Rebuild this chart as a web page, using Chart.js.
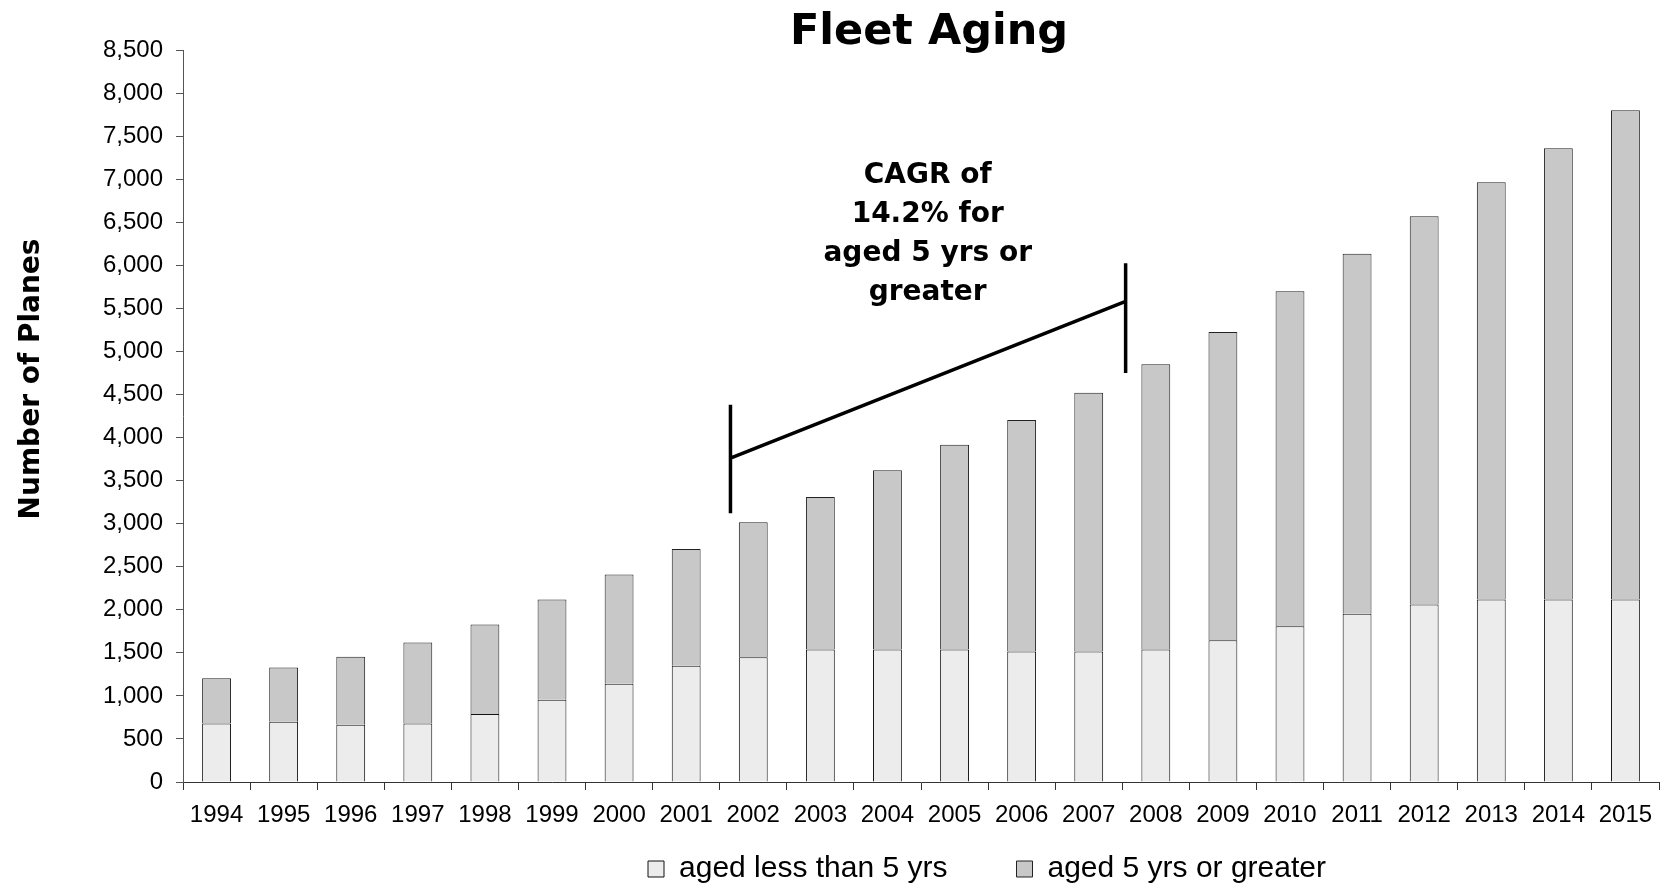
<!DOCTYPE html>
<html>
<head>
<meta charset="utf-8">
<title>Fleet Aging</title>
<script src="https://cdn.jsdelivr.net/npm/chart.js@4.4.1/dist/chart.umd.min.js"></script>
<style>
  html, body { margin: 0; padding: 0; background: #fff; overflow: hidden; }
</style>
</head>
<body>
<canvas id="chart" width="1670" height="883"></canvas>
<script>
// data
const years = ['1994','1995','1996','1997','1998','1999','2000','2001','2002','2003','2004',
               '2005','2006','2007','2008','2009','2010','2011','2012','2013','2014','2015'];
const agedUnder5 = [680, 700, 665, 680, 790, 955, 1140, 1350, 1450, 1540, 1540,
                    1540, 1515, 1515, 1540, 1645, 1810, 1955, 2060, 2120, 2120, 2120];
const aged5Plus = [525, 630, 790, 940, 1040, 1165, 1270, 1355, 1565, 1770, 2080,
                   2375, 2690, 3005, 3310, 3580, 3890, 4180, 4510, 4845, 5240, 5680];
const yTickMin = 0;
const yTickMax = 8500;
const yTickStep = 500;

// CAGR bracket, in category index / value units
const bracketX = [7.66, 13.55];
const bracketLow = [3120, 4750];
const bracketHigh = [4380, 6025];
const trendY = [3760, 5580];
const cagrLines = ['CAGR of', '14.2% for', 'aged 5 yrs or', 'greater'];
const cagrAnchor = [10.6, 6950];

const yTitle = 'Number of Planes';
const yTitleAt = 4680;

const boldFont = '"DejaVu Sans", Verdana, sans-serif';
const plainFont = '"Liberation Sans", Arial, sans-serif';

const cagrPlugin = {
  id: 'cagr',
  afterLayout(chart) {
    // legend and title sit right of centre in the original
    chart.legend.left += 66;
    chart.legend.right += 66;
    chart.legend.top -= 47;
    chart.legend.bottom -= 47;
    chart.titleBlock.left += 8;
    chart.titleBlock.right += 8;
  },
  afterDatasetsDraw(chart) {
    const ctx = chart.ctx;
    const x = chart.scales.x, y = chart.scales.y;
    ctx.save();
    ctx.strokeStyle = '#000';
    ctx.lineWidth = 3.5;
    ctx.lineCap = 'butt';
    ctx.beginPath();
    for (let i = 0; i < 2; i++) {
      const px = x.getPixelForValue(bracketX[i]);
      ctx.moveTo(px, y.getPixelForValue(bracketLow[i]));
      ctx.lineTo(px, y.getPixelForValue(bracketHigh[i]));
    }
    ctx.moveTo(x.getPixelForValue(bracketX[0]), y.getPixelForValue(trendY[0]));
    ctx.lineTo(x.getPixelForValue(bracketX[1]), y.getPixelForValue(trendY[1]));
    ctx.stroke();

    ctx.fillStyle = '#000';
    ctx.font = 'bold 28px ' + boldFont;
    ctx.textAlign = 'center';
    ctx.textBaseline = 'alphabetic';
    const tx = x.getPixelForValue(cagrAnchor[0]);
    const ty = y.getPixelForValue(cagrAnchor[1]);
    cagrLines.forEach(function(line, i){
      ctx.fillText(line, tx, ty + i * 39);
    });

    // y axis title
    ctx.translate(32, y.getPixelForValue(yTitleAt));
    ctx.rotate(-Math.PI / 2);
    ctx.textBaseline = 'middle';
    ctx.fillText(yTitle, 0, 0);
    ctx.restore();
  }
};

let ctx = document.getElementById('chart');

let dataChart = {
  labels: years,
  datasets: [{
    label: 'aged less than 5 yrs',
    data: agedUnder5,
    backgroundColor: '#ececec',
    borderColor: '#111',
    borderWidth: 1
  }, {
    label: 'aged 5 yrs or greater',
    data: aged5Plus,
    backgroundColor: '#c8c8c8',
    borderColor: '#222',
    borderWidth: 1
  }]
};

new Chart(ctx, {
  type: 'bar',
  data: dataChart,
  plugins: [cagrPlugin],
  options: {
    responsive: false,
    animation: false,
    devicePixelRatio: 1,
    barPercentage: 0.43,
    categoryPercentage: 1,
    layout: { padding: { top: 0, left: 0, right: 11, bottom: -58 } },
    plugins: {
      tooltip: { enabled: false },
      title: {
        display: true,
        text: 'Fleet Aging',
        fullSize: false,
        color: '#000',
        font: { family: boldFont, size: 43, weight: 'bold', lineHeight: '41px' },
        padding: { top: 12, bottom: -3 }
      },
      legend: {
        position: 'bottom',
        fullSize: false,
        labels: {
          color: '#000',
          font: { family: plainFont, size: 30 },
          boxWidth: 16,
          boxHeight: 16,
          padding: 69
        }
      }
    },
    scales: {
      x: {
        stacked: true,
        afterFit: function(scale){ scale.height = 50; },
        grid: { drawOnChartArea: false, drawTicks: true, tickLength: 8, color: '#333' },
        border: { display: true, color: '#333', width: 1 },
        ticks: {
          color: '#000',
          font: { family: plainFont, size: 24 },
          padding: 11,
          maxRotation: 0,
          autoSkip: false
        }
      },
      y: {
        stacked: true,
        min: yTickMin,
        max: yTickMax,
        afterFit: function(scale){ scale.width = 183; },
        grid: { drawOnChartArea: false, drawTicks: true, tickLength: 7, color: '#555' },
        border: { display: true, color: '#555', width: 1 },
        ticks: {
          stepSize: yTickStep,
          color: '#000',
          font: { family: plainFont, size: 24 },
          padding: 13,
          callback: function(v){ return Number(v).toLocaleString('en-US'); }
        }
      }
    }
  }
});
</script>
</body>
</html>
